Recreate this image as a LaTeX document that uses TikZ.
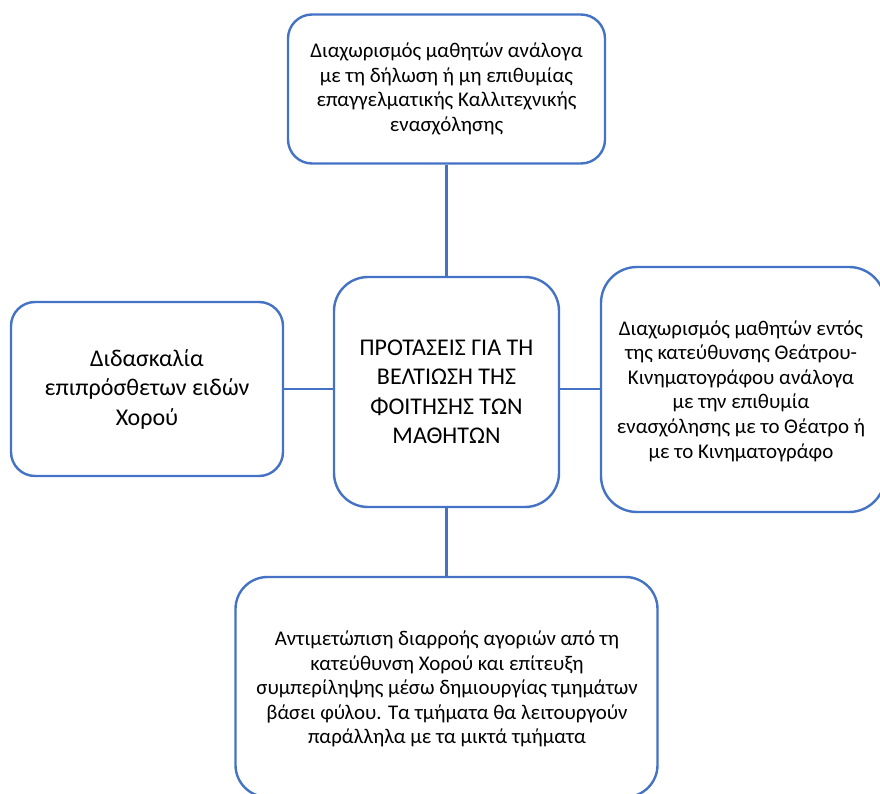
\documentclass[tikz,border=0pt]{standalone}
\usepackage{fontspec}
\setmainfont{Carlito}
\definecolor{boxblue}{HTML}{4472C4}
\begin{document}
\begin{tikzpicture}[x=1pt,y=-1pt,
  box/.style={draw=boxblue, line width=2.4pt, fill=white, rounded corners=#1,
    align=center, inner sep=0pt, text=black},
  box/.default=24pt,
  link/.style={draw=boxblue, line width=2.4pt},
  small/.style={font=\fontsize{20.9}{24.6}\selectfont},
  big/.style={font=\fontsize{24}{29.5}\selectfont}]
\useasboundingbox (0,0) rectangle (880,794);
% surrounding proposals
\node[box, small, minimum width=317pt, minimum height=149pt] (top) at (446.5,89)
  {Διαχωρισμός μαθητών ανάλογα\\με τη δήλωση ή μη επιθυμίας\\επαγγελματικής Καλλιτεχνικής\\ενασχόλησης};
\node[box=34pt, big, minimum width=225pt, minimum height=230pt] (mid) at (446.5,392)
  {ΠΡΟΤΑΣΕΙΣ ΓΙΑ ΤΗ\\ΒΕΛΤΙΩΣΗ ΤΗΣ\\ΦΟΙΤΗΣΗΣ ΤΩΝ\\ΜΑΘΗΤΩΝ};
\node[box, big, minimum width=272pt, minimum height=174pt] (left) at (147,389)
  {Διδασκαλία\\επιπρόσθετων ειδών\\Χορού};
\node[box=36pt, minimum width=284pt, minimum height=245pt] (right) at (743,389.5)
  {};
\node[small, align=center, inner sep=0pt] (righttext) at (741,391)
  {Διαχωρισμός μαθητών εντός\\της κατεύθυνσης Θεάτρου-\\Κινηματογράφου ανάλογα\\με την επιθυμία\\ενασχόλησης με το Θέατρο ή\\με το Κινηματογράφο};
\node[box=32pt, minimum width=422pt, minimum height=220pt] (bottom) at (446.5,687)
  {};
\node[small, align=center, inner sep=0pt] (bottomtext) at (447,689)
  {Αντιμετώπιση διαρροής αγοριών από τη\\κατεύθυνση Χορού και επίτευξη\\συμπερίληψης μέσω δημιουργίας τμημάτων\\βάσει φύλου. Τα τμήματα θα λειτουργούν\\παράλληλα με τα μικτά τμήματα};
% connectors from the centre
\draw[link] (top.south) -- (mid.north);
\draw[link] (mid.south) -- (bottom.north);
\draw[link] (left.east) -- (left.east -| mid.west);
\draw[link] (left.east -| mid.east) -- (left.east -| right.west);
\end{tikzpicture}
\end{document}
